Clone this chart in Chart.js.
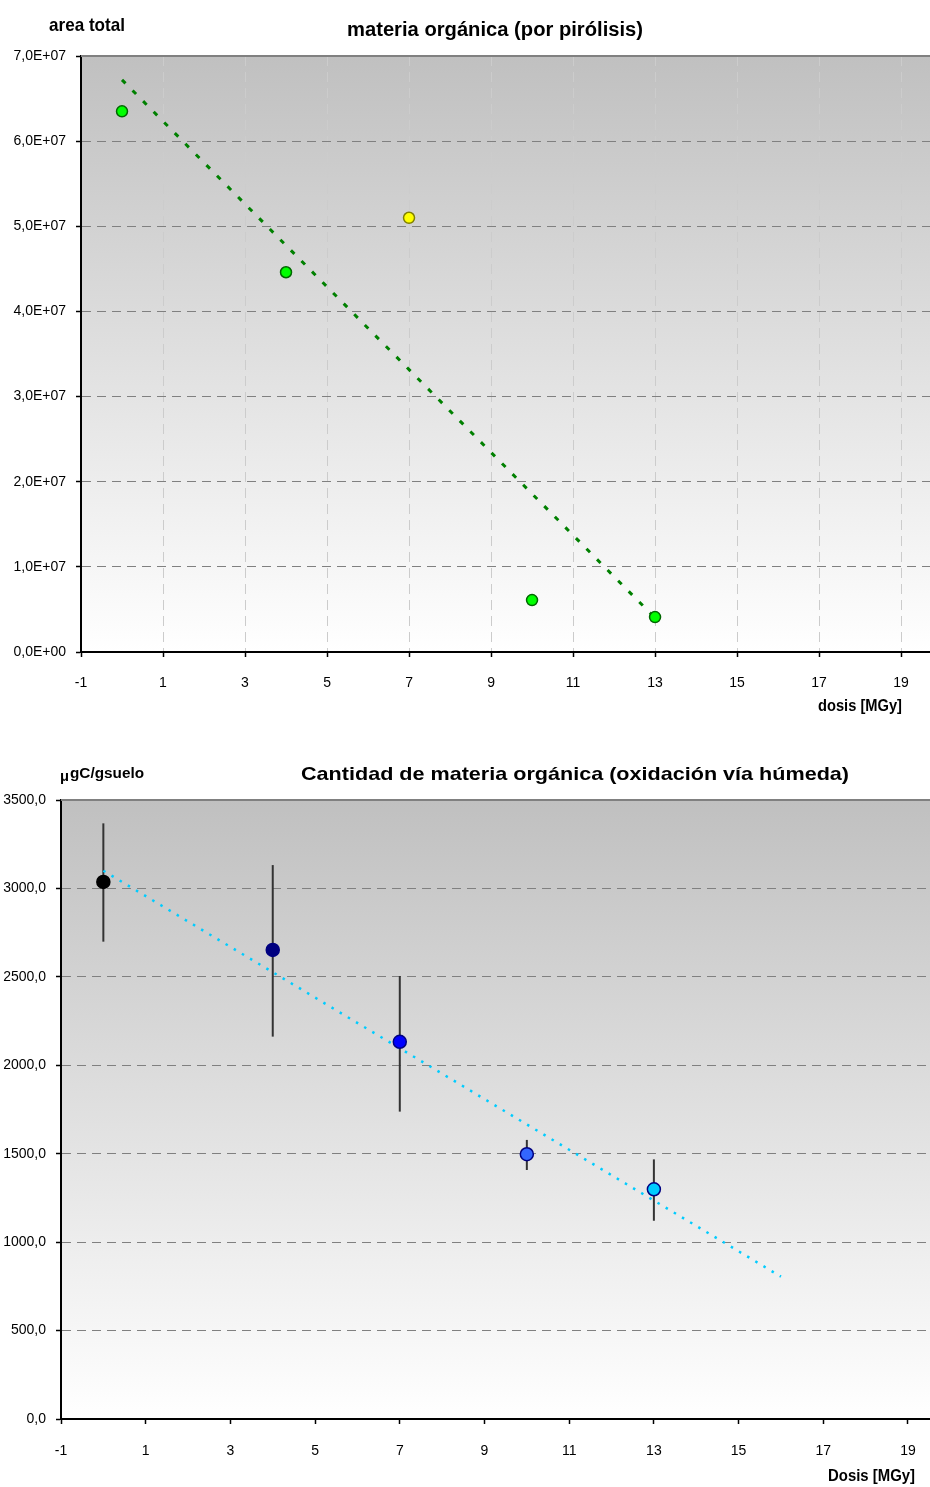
<!DOCTYPE html>
<html>
<head>
<meta charset="utf-8">
<script src="https://cdn.jsdelivr.net/npm/chart.js@4.4.1/dist/chart.umd.min.js"></script>
<style>
html,body{margin:0;padding:0;background:#fff;width:930px;height:1487px;overflow:hidden;position:relative}
.c{position:absolute;left:0}
</style>
</head>
<body>
<div class="c" style="top:0;width:938px;height:730px"><canvas id="c1"></canvas></div>
<div class="c" style="top:740px;width:938px;height:747px"><canvas id="c2"></canvas></div>
<script>
// ---------- top chart data (pirólisis) ----------
const doseTop = [0, 4, 7, 10, 13];
const areaTop = [6.35e7, 4.46e7, 5.10e7, 0.61e7, 0.41e7];
const topFill = ['#00ff00', '#00ff00', '#ffff00', '#00ff00', '#00ff00'];
const topBorder = ['#006600', '#006600', '#808000', '#006600', '#006600'];
const trendTopX = [0, 13];
const trendTopY = [6.72e7, 0.40e7];
const xTicks = [-1, 1, 3, 5, 7, 9, 11, 13, 15, 17, 19];
const yTicksTop = [0, 1e7, 2e7, 3e7, 4e7, 5e7, 6e7, 7e7];
const yLabelsTop = ['0,0E+00', '1,0E+07', '2,0E+07', '3,0E+07', '4,0E+07', '5,0E+07', '6,0E+07', '7,0E+07'];

// ---------- bottom chart data (oxidación vía húmeda) ----------
const doseBot = [0, 4, 7, 10, 13];
const carbon = [3037, 2652, 2133, 1497, 1299];
const errLow = [2699, 2162, 1738, 1408, 1121];
const errHigh = [3368, 3132, 2505, 1578, 1468];
const botFill = ['#000000', '#000080', '#0000ff', '#3366ff', '#00ccff'];
const botBorder = ['#000000', '#000080', '#000080', '#000080', '#000080'];
const trendBotX = [0, 16];
const trendBotY = [3100, 805];
const yTicksBot = [0, 500, 1000, 1500, 2000, 2500, 3000, 3500];
const yLabelsBot = ['0,0', '500,0', '1000,0', '1500,0', '2000,0', '2500,0', '3000,0', '3500,0'];

const FONT = "'Liberation Sans', Arial, sans-serif";

function fitText(ctx, text, left, right, baseline, font) {
  ctx.save();
  ctx.font = font;
  ctx.fillStyle = '#000';
  ctx.textAlign = 'left';
  ctx.textBaseline = 'alphabetic';
  const w = ctx.measureText(text).width;
  ctx.translate(left, baseline);
  ctx.scale((right - left) / w, 1);
  ctx.fillText(text, 0, 0);
  ctx.restore();
}

const bgPlugin = {
  id: 'bg',
  beforeDraw(chart) {
    const { ctx, chartArea: a } = chart;
    const g = ctx.createLinearGradient(0, a.top, 0, a.bottom);
    g.addColorStop(0, '#c0c0c0');
    g.addColorStop(1, '#ffffff');
    ctx.save();
    ctx.fillStyle = g;
    ctx.fillRect(a.left, a.top, a.right - a.left, a.bottom - a.top);
    ctx.restore();
  },
  beforeDatasetsDraw(chart) {
    const { ctx, chartArea: a } = chart;
    ctx.save();
    ctx.strokeStyle = '#808080';
    ctx.lineWidth = 2;
    ctx.beginPath();
    ctx.moveTo(a.left, a.top);
    ctx.lineTo(a.right, a.top);
    ctx.stroke();
    ctx.restore();
  }
};

function commonScales(yTicks, yLabels, yMax, xMax, yWidth, xHeight, xGridOnArea, xPad) {
  return {
    x: {
      type: 'linear', min: -1, max: xMax,
      afterBuildTicks: s => { s.ticks = xTicks.map(v => ({ value: v })); },
      afterFit: s => { s.height = xHeight; },
      ticks: { color: '#000', font: { family: FONT, size: 14 }, padding: xPad, maxRotation: 0, autoSkip: false, callback: v => String(v) },
      grid: { color: '#cccccc', lineWidth: 1, drawOnChartArea: xGridOnArea, drawTicks: true, tickLength: 5, tickColor: '#000', tickWidth: 1.5 },
      border: { display: true, color: '#000', width: 2, dash: [10, 6] }
    },
    y: {
      type: 'linear', min: 0, max: yMax,
      afterBuildTicks: s => { s.ticks = yTicks.map(v => ({ value: v })); },
      afterFit: s => { s.width = yWidth; },
      ticks: { color: '#000', font: { family: FONT, size: 14 }, padding: 10, autoSkip: false, callback: v => yLabels[yTicks.indexOf(v)] },
      grid: { color: '#808080', lineWidth: 1, drawTicks: true, tickLength: 5, tickColor: '#000', tickWidth: 1.5 },
      border: { display: true, color: '#000', width: 2, dash: [9, 6] }
    }
  };
}

// ---------- top chart ----------
new Chart(document.getElementById('c1'), {
  type: 'scatter',
  data: {
    datasets: [
      {
        data: doseTop.map((x, i) => ({ x, y: areaTop[i] })),
        pointRadius: 5.5, pointBackgroundColor: topFill, pointBorderColor: topBorder, pointBorderWidth: 1.5,
        showLine: false
      },
      {
        data: trendTopX.map((x, i) => ({ x, y: trendTopY[i] })),
        showLine: true, borderColor: '#008000', borderWidth: 3, borderDash: [5, 10], pointRadius: 0, fill: false
      }
    ]
  },
  options: {
    responsive: true, maintainAspectRatio: false, animation: false, events: [],
    layout: { padding: { top: 56, left: 0, right: 0, bottom: 0 } },
    plugins: { legend: { display: false }, tooltip: { enabled: false } },
    scales: commonScales(yTicksTop, yLabelsTop, 7e7, 19.73, 81, 78, true, 18)
  },
  plugins: [bgPlugin, {
    id: 'texts1',
    afterDraw(chart) {
      const ctx = chart.ctx;
      fitText(ctx, 'area total', 49, 125, 31, 'bold 19px ' + FONT);
      fitText(ctx, 'materia orgánica (por pirólisis)', 347, 643, 36, 'bold 20px ' + FONT);
      fitText(ctx, 'dosis [MGy]', 818, 902, 711, 'bold 17px ' + FONT);
    }
  }]
});

// ---------- bottom chart ----------
new Chart(document.getElementById('c2'), {
  type: 'scatter',
  data: {
    datasets: [
      {
        data: doseBot.map((x, i) => ({ x, y: carbon[i] })),
        pointRadius: 6.5, pointBackgroundColor: botFill, pointBorderColor: botBorder, pointBorderWidth: 1.5,
        showLine: false
      },
      {
        data: trendBotX.map((x, i) => ({ x, y: trendBotY[i] })),
        showLine: true, borderColor: '#00ccff', borderWidth: 2.5, borderDash: [2.5, 7], pointRadius: 0, fill: false
      }
    ]
  },
  options: {
    responsive: true, maintainAspectRatio: false, animation: false, events: [],
    layout: { padding: { top: 60, left: 0, right: 0, bottom: 0 } },
    plugins: { legend: { display: false }, tooltip: { enabled: false } },
    scales: commonScales(yTicksBot, yLabelsBot, 3500, 19.52, 61, 68, false, 19)
  },
  plugins: [bgPlugin, {
    id: 'errbars',
    beforeDatasetsDraw(chart) {
      const { ctx, scales: { x, y } } = chart;
      ctx.save();
      ctx.strokeStyle = '#333333';
      ctx.lineWidth = 2;
      doseBot.forEach((d, i) => {
        const px = x.getPixelForValue(d);
        ctx.beginPath();
        ctx.moveTo(px, y.getPixelForValue(errLow[i]));
        ctx.lineTo(px, y.getPixelForValue(errHigh[i]));
        ctx.stroke();
      });
      ctx.restore();
    }
  }, {
    id: 'texts2',
    afterDraw(chart) {
      const ctx = chart.ctx;
      fitText(ctx, 'μ', 60, 69, 41, 'bold 15px ' + FONT);
      fitText(ctx, 'gC/gsuelo', 70, 144, 38, 'bold 14px ' + FONT);
      fitText(ctx, 'Cantidad de materia orgánica (oxidación vía húmeda)', 301, 849, 40, 'bold 19px ' + FONT);
      fitText(ctx, 'Dosis [MGy]', 828, 915, 741, 'bold 17px ' + FONT);
    }
  }]
});
</script>
</body>
</html>
